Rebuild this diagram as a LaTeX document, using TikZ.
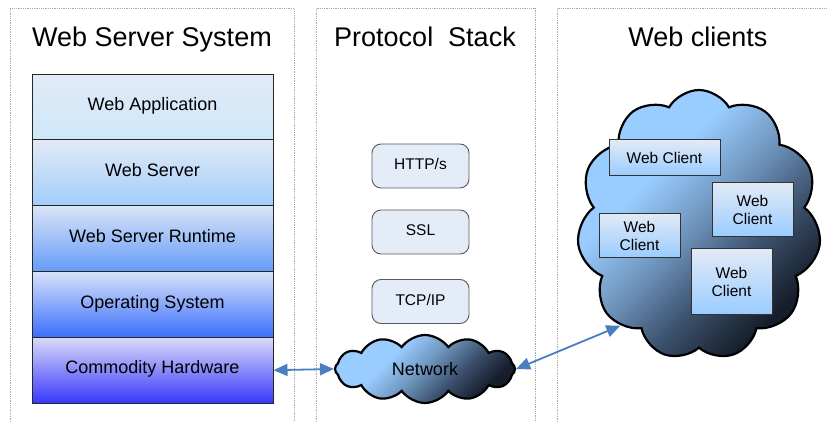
\documentclass[tikz,border=0pt]{standalone}
\usepackage{fontspec}
\setmainfont{Liberation Sans}
\usetikzlibrary{shapes.symbols,arrows.meta}
\definecolor{panelgray}{RGB}{170,170,170}
\definecolor{arrowblue}{RGB}{74,126,193}
\definecolor{boxtop}{RGB}{226,234,246}
\definecolor{protofill}{RGB}{228,236,247}
\definecolor{clight}{RGB}{153,204,255}
\definecolor{cmid}{RGB}{112,150,190}
\definecolor{cdm}{RGB}{60,82,110}
\definecolor{cdark}{RGB}{22,30,44}
\pgfdeclareverticalshading{cloudshade}{100bp}{color(0bp)=(cdark); color(27bp)=(cdark); color(39bp)=(cdm); color(51bp)=(cmid); color(63bp)=(clight); color(100bp)=(clight)}
\tikzset{
  panel/.style={draw=panelgray, densely dotted, line width=0.8pt},
  title/.style={anchor=base, font=\fontsize{27}{30}\selectfont},
  layer/.style={draw=black!85, line width=1pt, minimum width=241pt, minimum height=65.8pt, inner sep=0pt,
    font=\fontsize{18}{20}\selectfont, text height=1.38ex, text depth=0pt},
  proto/.style={draw=black!65, fill=protofill, rounded corners=9pt, line width=0.9pt, minimum width=97pt, minimum height=44pt,
    inner sep=0pt, font=\fontsize{15.5}{18}\selectfont, text height=1.38ex, text depth=0pt},
  client/.style={draw=black!80, line width=1pt, top color=boxtop, bottom color=clight, inner sep=0pt,
    font=\fontsize{15.5}{18}\selectfont, align=center},
  cloudnode/.style={cloud, cloud ignores aspect, draw=black, line width=2.2pt, shading=cloudshade, shading angle=45, inner sep=0pt},
  link/.style={draw=arrowblue, line width=1.8pt, {Triangle[length=14pt,width=12pt]}-{Triangle[length=14pt,width=12pt]}}
}
\begin{document}
\begin{tikzpicture}[x=1pt,y=-1pt]
\useasboundingbox (0,0) rectangle (828,422);
% panels
\draw[panel] (10,440) -- (10,8.5) -- (294,8.5) -- (294,440);
\draw[panel] (316,440) -- (316,8.5) -- (535,8.5) -- (535,440);
\draw[panel] (557,440) -- (557,8.5) -- (840,8.5);
% titles
\node[title] (t1) at (152,47) {Web Server System};
\node[title] (t2) at (425,47) {Protocol\ \ Stack};
\node[title] (t3) at (698,47) {Web clients};
% stack
\node[layer, top color=boxtop, bottom color={rgb,255:red,205;green,232;blue,250}] (wa) at (152.5,107) {Web Application};
\node[layer, top color=boxtop, bottom color={rgb,255:red,160;green,205;blue,250}] (ws) at (152.5,172.8) {Web Server};
\node[layer, top color={rgb,255:red,218;green,228;blue,246}, bottom color={rgb,255:red,100;green,155;blue,248}] (wr) at (152.5,238.6) {Web Server Runtime};
\node[layer, top color={rgb,255:red,216;green,226;blue,248}, bottom color={rgb,255:red,58;green,110;blue,252}] (os) at (152.5,304.4) {Operating System};
\node[layer, top color={rgb,255:red,218;green,218;blue,248}, bottom color={rgb,255:red,56;green,56;blue,252}] (hw) at (152.5,370.2) {Commodity Hardware};
% protocol stack
\node[proto] (http) at (420.5,166) {HTTP/s};
\node[proto] (ssl) at (420.5,232) {SSL};
\node[proto] (tcp) at (420.5,301.5) {TCP/IP};
% network cloud
\node[cloudnode, cloud puffs=12, cloud puff arc=110, minimum width=180pt, minimum height=68pt,
  font=\fontsize{18}{20}\selectfont] (net) at (425,369) {Network};
% clients cloud
\node[cloudnode, cloud puffs=11, cloud puff arc=120, minimum width=244pt, minimum height=270pt] (cl) at (699,225) {};
\node[client, minimum width=111pt, minimum height=36pt] (c1) at (664.5,158) {Web Client};
\node[client, minimum width=81pt, minimum height=54pt] (c2) at (752.5,210) {Web\\Client};
\node[client, minimum width=81pt, minimum height=44pt] (c3) at (639.5,236) {Web\\Client};
\node[client, minimum width=81pt, minimum height=66pt] (c4) at (731.5,282) {Web\\Client};
% connectors
\draw[link] (hw.east) -- (net.west);
\draw[link] (net.east) -- (cl.232);
\end{tikzpicture}
\end{document}
